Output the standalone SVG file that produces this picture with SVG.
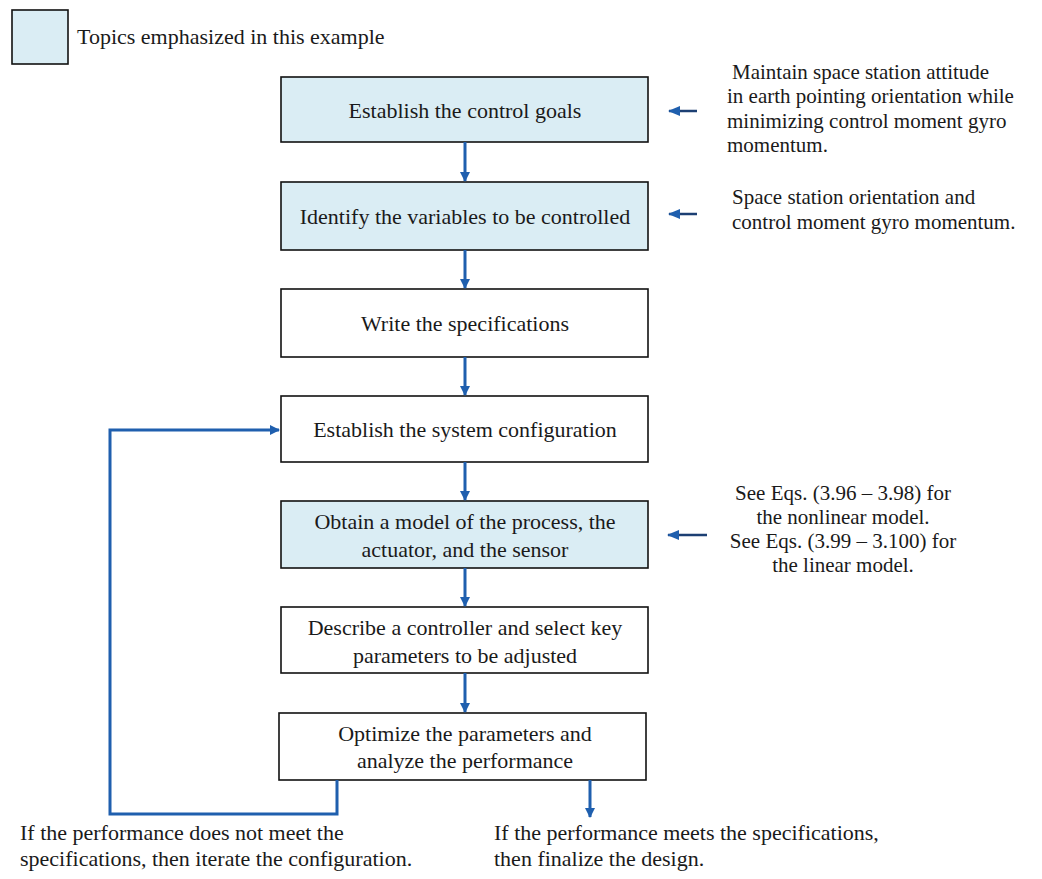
<svg xmlns="http://www.w3.org/2000/svg" width="1042" height="879" viewBox="0 0 1042 879">
<defs>
<style>
.box{fill:#ffffff;stroke:#111;stroke-width:1.6}
.hl{fill:#daedf4}
.t{font-family:"Liberation Serif","Times New Roman",serif;font-size:22px;fill:#1a1a1a}
.n{font-size:21px}
.m{text-anchor:middle}
.c{stroke:#1f5fae;stroke-width:3;fill:none}
.s{stroke:#1c3f73;stroke-width:2.5;fill:none}
</style>
<marker id="ah" markerWidth="10" markerHeight="10" refX="9" refY="5" orient="auto" markerUnits="userSpaceOnUse"><path d="M0,0 L10,5 L0,10 Z" fill="#1f5fae"/></marker>
<marker id="ah2" markerWidth="12" markerHeight="10" refX="11" refY="5" orient="auto" markerUnits="userSpaceOnUse"><path d="M0,0 L12,5 L0,10 Z" fill="#1f5fae"/></marker>
</defs>
<rect width="1042" height="879" fill="#ffffff"/>
<g id="legend">
<rect x="12" y="10" width="56" height="54" class="box hl"/>
<text x="77" y="44" class="t">Topics emphasized in this example</text>
</g>
<g id="n1"><rect x="281" y="77" width="367" height="65" class="box hl"/><text x="465" y="118" class="t m">Establish the control goals</text></g>
<g id="n2"><rect x="281" y="182" width="367" height="68" class="box hl"/><text x="465" y="224" class="t m">Identify the variables to be controlled</text></g>
<g id="n3"><rect x="281" y="289" width="367" height="68" class="box"/><text x="465" y="331" class="t m">Write the specifications</text></g>
<g id="n4"><rect x="281" y="396" width="367" height="66" class="box"/><text x="465" y="437" class="t m">Establish the system configuration</text></g>
<g id="n5"><rect x="281" y="501" width="367" height="67" class="box hl"/><text x="465" y="529" class="t m">Obtain a model of the process, the</text><text x="465" y="557" class="t m">actuator, and the sensor</text></g>
<g id="n6"><rect x="281" y="607" width="367" height="66" class="box"/><text x="465" y="635" class="t m">Describe a controller and select key</text><text x="465" y="663" class="t m">parameters to be adjusted</text></g>
<g id="n7"><rect x="279" y="713" width="367" height="67" class="box"/><text x="465" y="741" class="t m">Optimize the parameters and</text><text x="465" y="768" class="t m">analyze the performance</text></g>
<g id="note1">
<text x="732" y="79" class="t n">Maintain space station attitude</text>
<text x="727" y="103" class="t n">in earth pointing orientation while</text>
<text x="727" y="128" class="t n">minimizing control moment gyro</text>
<text x="727" y="152" class="t n">momentum.</text>
</g>
<g id="note2">
<text x="732" y="204" class="t n">Space station orientation and</text>
<text x="732" y="229" class="t n">control moment gyro momentum.</text>
</g>
<g id="note3">
<text x="843" y="500" class="t m n">See Eqs. (3.96 – 3.98) for</text>
<text x="843" y="524" class="t m n">the nonlinear model.</text>
<text x="843" y="548" class="t m n">See Eqs. (3.99 – 3.100) for</text>
<text x="843" y="572" class="t m n">the linear model.</text>
</g>
<g id="note4">
<text x="20" y="840" class="t">If the performance does not meet the</text>
<text x="20" y="866" class="t">specifications, then iterate the configuration.</text>
</g>
<g id="note5">
<text x="494" y="840" class="t">If the performance meets the specifications,</text>
<text x="494" y="866" class="t">then finalize the design.</text>
</g>
<g id="connectors">
<line x1="465" y1="142" x2="465" y2="181" class="c" marker-end="url(#ah)"/>
<line x1="465" y1="250" x2="465" y2="288" class="c" marker-end="url(#ah)"/>
<line x1="465" y1="357" x2="465" y2="395" class="c" marker-end="url(#ah)"/>
<line x1="465" y1="462" x2="465" y2="500" class="c" marker-end="url(#ah)"/>
<line x1="465" y1="568" x2="465" y2="606" class="c" marker-end="url(#ah)"/>
<line x1="465" y1="673" x2="465" y2="712" class="c" marker-end="url(#ah)"/>
<polyline points="337,780 337,814 110,814 110,430 279,430" class="c" marker-end="url(#ah)"/>
<line x1="590" y1="780" x2="590" y2="817" class="c" marker-end="url(#ah)"/>
<line x1="697" y1="111" x2="669" y2="111" class="s" marker-end="url(#ah2)"/>
<line x1="697" y1="214" x2="669" y2="214" class="s" marker-end="url(#ah2)"/>
<line x1="707" y1="535" x2="668" y2="535" class="s" marker-end="url(#ah2)"/>
</g>
</svg>
